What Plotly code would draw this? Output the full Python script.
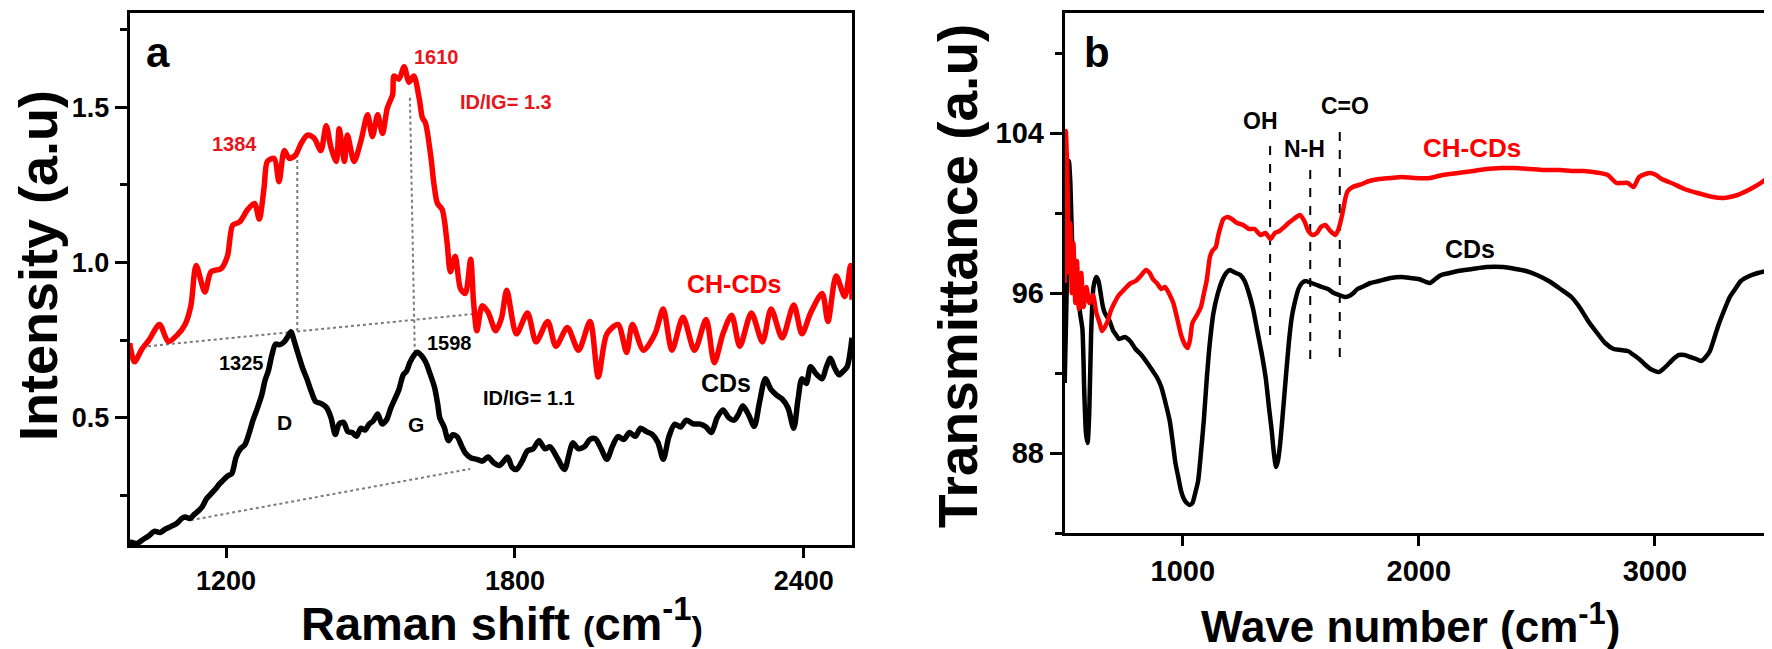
import plotly.graph_objects as go

# ---------------- Panel a : Raman ----------------
raman_red_x = [1000,1010,1025,1040,1062,1080,1098,1115,1127,1138,1156,1169,1190,1203,1214,1228,1245,1259,1269,1279,
               1286,1300,1310,1321,1331,1344,1355,1369,1383,1397,1408,1418,1429,1435,1446,1452,1466,1480,1494,1504,
               1515,1525,1535,1546,1549,1559,1570,1580,1590,1601,1608,1614,1625,1632,1639,1649,1659,1666,1676,1687,
               1697,1708,1714,1721,1732,1744,1760,1772,1783,1803,1826,1844,1868,1885,1909,1932,1956,1973,1991,2014,
               2032,2044,2067,2091,2108,2126,2149,2173,2197,2214,2232,2250,2267,2291,2314,2332,2355,2379,2396,2414,
               2438,2450,2467,2485,2497,2500]
raman_red_y = [0.74,0.68,0.72,0.75,0.80,0.745,0.765,0.80,0.86,0.99,0.905,0.97,0.98,1.02,1.12,1.13,1.17,1.19,1.14,1.24,
               1.325,1.335,1.26,1.36,1.335,1.345,1.38,1.41,1.40,1.36,1.44,1.37,1.325,1.43,1.325,1.41,1.325,1.39,1.475,1.405,
               1.475,1.415,1.497,1.54,1.60,1.59,1.63,1.58,1.60,1.53,1.465,1.45,1.345,1.25,1.19,1.17,1.065,0.97,1.02,0.915,
               0.90,1.01,0.875,0.78,0.86,0.84,0.78,0.82,0.91,0.77,0.837,0.744,0.81,0.73,0.79,0.717,0.81,0.631,0.77,0.80,
               0.71,0.80,0.717,0.77,0.85,0.717,0.823,0.717,0.816,0.677,0.77,0.83,0.73,0.837,0.744,0.85,0.757,0.863,0.77,0.837,
               0.90,0.81,0.956,0.89,0.99,0.88]

raman_blk_x = [1000,1015,1027,1040,1051,1063,1074,1086,1098,1108,1115,1125,1133,1143,1151,1160,1168,1178,1186,1195,
               1204,1212,1221,1230,1239,1248,1256,1265,1274,1281,1288,1295,1303,1312,1321,1328,1335,1342,1350,1359,
               1368,1377,1386,1398,1409,1418,1427,1435,1444,1453,1462,1471,1480,1489,1497,1506,1515,1524,1533,1542,
               1550,1559,1568,1575,1582,1590,1597,1606,1615,1624,1633,1640,1644,1653,1662,1671,1680,1689,1697,1709,
               1721,1732,1744,1756,1768,1777,1785,1794,1803,1815,1826,1838,1850,1862,1873,1888,1903,1912,1920,1932,
               1944,1956,1967,1979,1991,2003,2014,2026,2038,2050,2061,2073,2085,2097,2108,2120,2132,2144,2156,2170,
               2185,2197,2208,2220,2232,2244,2255,2264,2273,2285,2297,2308,2320,2332,2344,2355,2367,2379,2388,2396,
               2405,2414,2426,2438,2446,2455,2464,2473,2482,2490,2497,2500]
raman_blk_y = [0.10,0.095,0.107,0.12,0.134,0.13,0.141,0.15,0.160,0.175,0.180,0.175,0.187,0.20,0.214,0.24,0.253,0.27,0.286,0.30,
               0.313,0.32,0.373,0.40,0.412,0.45,0.492,0.53,0.572,0.62,0.651,0.70,0.737,0.735,0.744,0.76,0.777,0.745,0.704,0.66,
               0.625,0.585,0.552,0.545,0.532,0.50,0.446,0.48,0.485,0.455,0.452,0.44,0.466,0.46,0.479,0.49,0.512,0.48,0.492,0.53,
               0.558,0.59,0.638,0.65,0.678,0.70,0.711,0.70,0.678,0.64,0.598,0.54,0.499,0.47,0.426,0.445,0.439,0.41,0.386,0.37,
               0.366,0.36,0.373,0.355,0.346,0.36,0.373,0.34,0.333,0.36,0.393,0.40,0.426,0.40,0.406,0.37,0.333,0.38,0.419,0.40,
               0.406,0.43,0.432,0.40,0.366,0.41,0.439,0.43,0.452,0.44,0.466,0.455,0.446,0.42,0.366,0.44,0.479,0.47,0.492,0.48,
               0.479,0.47,0.452,0.50,0.525,0.50,0.492,0.51,0.538,0.51,0.472,0.55,0.625,0.59,0.572,0.56,0.532,0.466,0.56,0.625,
               0.61,0.664,0.64,0.625,0.66,0.691,0.66,0.638,0.65,0.664,0.72,0.757]

# guide lines (start/end points)
raman_guide_x = [[1348, 1348], [1582, 1592], [1038, 1721], [1127, 1707]]
raman_guide_y = [[1.368, 0.777], [1.53, 0.713], [0.730, 0.835], [0.170, 0.335]]

# ---------------- Panel b : FTIR ----------------
ftir_red_x = [500,505,512,518,524,530,537,545,552,560,570,580,592,605,620,634,648,658,670,682,695,706,730,754,780,801,825,844,
              860,873,890,909,925,945,960,975,993,1010,1021,1030,1041,1060,1077,1090,1101,1115,1125,1140,1149,1160,1172,1190,
              1208,1230,1256,1280,1304,1330,1350,1372,1390,1410,1430,1448,1470,1496,1515,1532,1550,1568,1585,1604,1625,1646,
              1660,1675,1690,1699,1720,1759,1790,1831,1880,1927,1980,2047,2100,2166,2230,2286,2350,2406,2470,2526,2600,2646,
              2700,2765,2800,2837,2860,2885,2909,2933,2960,2981,3005,3029,3080,3125,3180,3245,3290,3317,3350,3388,3420,3460,
              3496,3500]
ftir_red_y = [96.5,104.1,101.5,97.0,99.5,96.0,98.5,95.5,97.6,95.2,97.0,95.3,96.3,95.5,95.9,95.0,94.5,94.1,94.3,94.6,95.1,95.4,
              95.9,96.2,96.5,96.6,96.9,97.15,97.0,96.7,96.5,96.2,96.3,95.9,95.5,94.8,93.9,93.4,93.25,93.6,94.5,94.9,95.3,96.0,
              96.6,97.8,98.1,98.3,98.8,99.3,99.7,99.8,99.7,99.5,99.4,99.2,99.2,98.9,99.0,98.7,99.0,99.1,99.3,99.5,99.7,99.9,
              99.6,99.1,98.9,99.0,99.3,99.4,99.1,98.9,99.2,99.9,100.8,101.1,101.3,101.45,101.6,101.7,101.75,101.8,101.75,101.75,
              101.9,102.0,102.1,102.2,102.25,102.25,102.2,102.15,102.15,102.1,102.1,102.0,101.9,101.5,101.5,101.5,101.3,101.8,
              101.95,102.0,101.9,101.7,101.45,101.2,101.0,100.8,100.75,100.8,100.9,101.1,101.3,101.6,102.0,102.1]

ftir_blk_x = [500,510,518,524,530,538,546,555,565,575,583,590,597,604,612,622,634,643,652,662,670,690,706,718,730,755,777,800,
              825,850,873,890,909,925,945,958,969,981,993,1005,1017,1030,1041,1053,1065,1077,1089,1101,1113,1130,1149,1166,
              1184,1200,1208,1225,1244,1262,1280,1298,1316,1334,1352,1365,1376,1386,1395,1403,1412,1424,1436,1450,1462,1472,
              1490,1505,1520,1545,1568,1590,1615,1640,1663,1687,1705,1723,1740,1759,1795,1831,1880,1927,1965,1999,2030,2047,
              2070,2094,2130,2166,2226,2286,2358,2410,2454,2500,2550,2600,2646,2680,2717,2755,2789,2825,2855,2885,2910,2933,
              2960,2981,3000,3017,3035,3053,3078,3101,3125,3149,3175,3197,3215,3233,3250,3269,3292,3317,3340,3364,3400,3436,
              3470,3496,3500]
ftir_blk_y = [91.5,97.0,102.6,101.5,99.0,97.2,96.5,96.3,95.0,94.2,91.0,89.0,88.5,90.0,94.0,96.3,96.8,96.6,96.0,95.3,95.0,94.6,
              94.1,93.9,93.7,93.8,93.6,93.2,92.9,92.5,92.1,91.8,91.3,90.6,89.6,88.5,87.5,86.8,86.1,85.7,85.5,85.4,85.5,86.0,
              86.6,88.0,89.6,91.6,93.3,95.0,96.0,96.6,97.0,97.15,97.1,97.0,96.9,96.6,96.0,95.2,94.1,93.0,91.7,90.3,89.2,88.0,
              87.3,87.6,88.4,90.0,91.7,93.6,94.8,95.4,96.2,96.5,96.6,96.5,96.4,96.3,96.2,96.0,95.9,95.8,95.85,96.0,96.2,96.3,
              96.5,96.6,96.75,96.8,96.75,96.7,96.55,96.5,96.7,96.9,97.0,97.1,97.2,97.3,97.3,97.2,97.1,96.9,96.6,96.2,95.8,95.3,
              94.6,94.0,93.5,93.2,93.15,93.1,92.9,92.7,92.4,92.2,92.1,92.05,92.2,92.4,92.7,92.9,92.9,92.8,92.7,92.6,92.8,93.1,
              93.7,94.4,95.1,95.8,96.2,96.6,96.85,97.0,97.1,97.2,97.25]

ftir_mark_x = [1370, 1540, 1665]
ftir_mark_y0 = [93.9, 92.7, 92.8]
ftir_mark_y1 = [103.8, 102.4, 104.4]
ftir_mark_labels = ["OH", "N-H", "C=O"]
ftir_mark_lx = [1330, 1515, 1688]
ftir_mark_ly = [104.6, 103.2, 105.35]

RED = "#ff0000"
LRED = "#e8161c"
FONT = "Liberation Sans, Arial, sans-serif"

fig = go.Figure()

for gx, gy in zip(raman_guide_x, raman_guide_y):
    fig.add_trace(go.Scatter(x=gx, y=gy, mode="lines", xaxis="x", yaxis="y",
                             line=dict(color="#7a7a7a", width=2, dash="dot"), hoverinfo="skip"))
fig.add_trace(go.Scatter(x=raman_red_x, y=raman_red_y, mode="lines", xaxis="x", yaxis="y",
                         line=dict(color=RED, width=5.5, shape="spline", smoothing=0.8)))
fig.add_trace(go.Scatter(x=raman_blk_x, y=raman_blk_y, mode="lines", xaxis="x", yaxis="y",
                         line=dict(color="black", width=5.5, shape="spline", smoothing=0.8)))

for mx, a0, a1 in zip(ftir_mark_x, ftir_mark_y0, ftir_mark_y1):
    fig.add_trace(go.Scatter(x=[mx, mx], y=[a0, a1], mode="lines", xaxis="x2", yaxis="y2",
                             line=dict(color="black", width=2, dash="dash"), hoverinfo="skip"))
fig.add_trace(go.Scatter(x=ftir_blk_x, y=ftir_blk_y, mode="lines", xaxis="x2", yaxis="y2",
                         line=dict(color="black", width=4.5, shape="spline", smoothing=0.6)))
fig.add_trace(go.Scatter(x=ftir_red_x, y=ftir_red_y, mode="lines", xaxis="x2", yaxis="y2",
                         line=dict(color=RED, width=4.5, shape="spline", smoothing=0.6)))

axis_common = dict(showline=True, linewidth=3, linecolor="black", mirror=True, showgrid=False,
                   zeroline=False, ticks="outside", tickwidth=3, tickcolor="black")

fig.update_layout(
    width=1772, height=649, margin=dict(l=0, r=0, t=0, b=0),
    paper_bgcolor="white", plot_bgcolor="white", showlegend=False,
    font=dict(family=FONT, color="black"),
    xaxis=dict(domain=[121.7/1772, 844/1772], range=[1000, 2500], tick0=1200, dtick=600, ticklen=10,
               tickfont=dict(size=27, family=FONT, weight="bold"), anchor="y", **axis_common),
    yaxis=dict(domain=[(649-537)/649, (649-5)/649], range=[0.09, 1.803], tick0=0.5, dtick=0.5, ticklen=12,
               tickformat=".1f", tickfont=dict(size=27, family=FONT, weight="bold"), anchor="x",
               minor=dict(dtick=0.25, tick0=0.25, ticks="outside", ticklen=7, tickwidth=3, tickcolor="black"),
               **axis_common),
    xaxis2=dict(domain=[1056.7/1772, 1765/1772], range=[500, 3500], tick0=0, dtick=1000, ticklen=10,
                tickfont=dict(size=29, family=FONT, weight="bold"), anchor="y2", **axis_common),
    yaxis2=dict(domain=[(649-525)/649, (649-5)/649], range=[84, 110], tick0=88, dtick=8, ticklen=12,
                tickfont=dict(size=29, family=FONT, weight="bold"), anchor="x2",
                minor=dict(dtick=4, tick0=84, ticks="outside", ticklen=7, tickwidth=3, tickcolor="black"),
                **axis_common),
)

ann = []
def add(text, x, y, size, color="black", xref="x", yref="y", angle=0):
    ann.append(dict(text=text, x=x, y=y, xref=xref, yref=yref, showarrow=False, textangle=angle,
                    xanchor="center", yanchor="middle",
                    font=dict(family=FONT, size=size, color=color)))

# panel a labels
add("<b>a</b>", 150/1772, 1-44/649, 42, xref="paper", yref="paper")
add("<b>1610</b>", 1638, 1.662, 20, LRED)
add("<b>ID/IG= 1.3</b>", 1782, 1.516, 20, LRED)
add("<b>1384</b>", 1218, 1.381, 20, LRED)
add("<b>1325</b>", 1233, 0.675, 20)
add("<b>1598</b>", 1664, 0.741, 20)
add("<b>D</b>", 1321, 0.485, 21)
add("<b>G</b>", 1594, 0.479, 21)
add("<b>ID/IG= 1.1</b>", 1829, 0.562, 20)
add("<b>CH-CDs</b>", 2255, 0.930, 25, RED)
add("<b>CDs</b>", 2238, 0.611, 25)
# panel b labels
add("<b>b</b>", 1089/1772, 1-45/649, 42, xref="paper", yref="paper")
for t, lx, ly in zip(ftir_mark_labels, ftir_mark_lx, ftir_mark_ly):
    ann.append(dict(text="<b>%s</b>" % t, x=lx, y=ly, xref="x2", yref="y2", showarrow=False,
                    font=dict(family=FONT, size=23, color="black")))
ann.append(dict(text="<b>CH-CDs</b>", x=2225, y=103.25, xref="x2", yref="y2", showarrow=False,
                font=dict(family=FONT, size=26, color=RED)))
ann.append(dict(text="<b>CDs</b>", x=2217, y=98.2, xref="x2", yref="y2", showarrow=False,
                font=dict(family=FONT, size=25, color="black")))
# axis titles
add('<b>Raman shift <span style="font-size:34px">(</span>cm<sup>-1</sup><span style="font-size:34px">)</span></b>',
    494/1772, 1-612/649, 47, xref="paper", yref="paper")
add("<b>Intensity (a.u)</b>", 30/1772, 1-258/649, 54, xref="paper", yref="paper", angle=-90)
add("<b>Wave number (cm<sup>-1</sup>)</b>", 1402/1772, 1-615/649, 44, xref="paper", yref="paper")
add("<b>Transmittance (a.u)</b>", 950/1772, 1-268/649, 55, xref="paper", yref="paper", angle=-90)

fig.update_layout(annotations=ann)
fig.write_html("out.html")
